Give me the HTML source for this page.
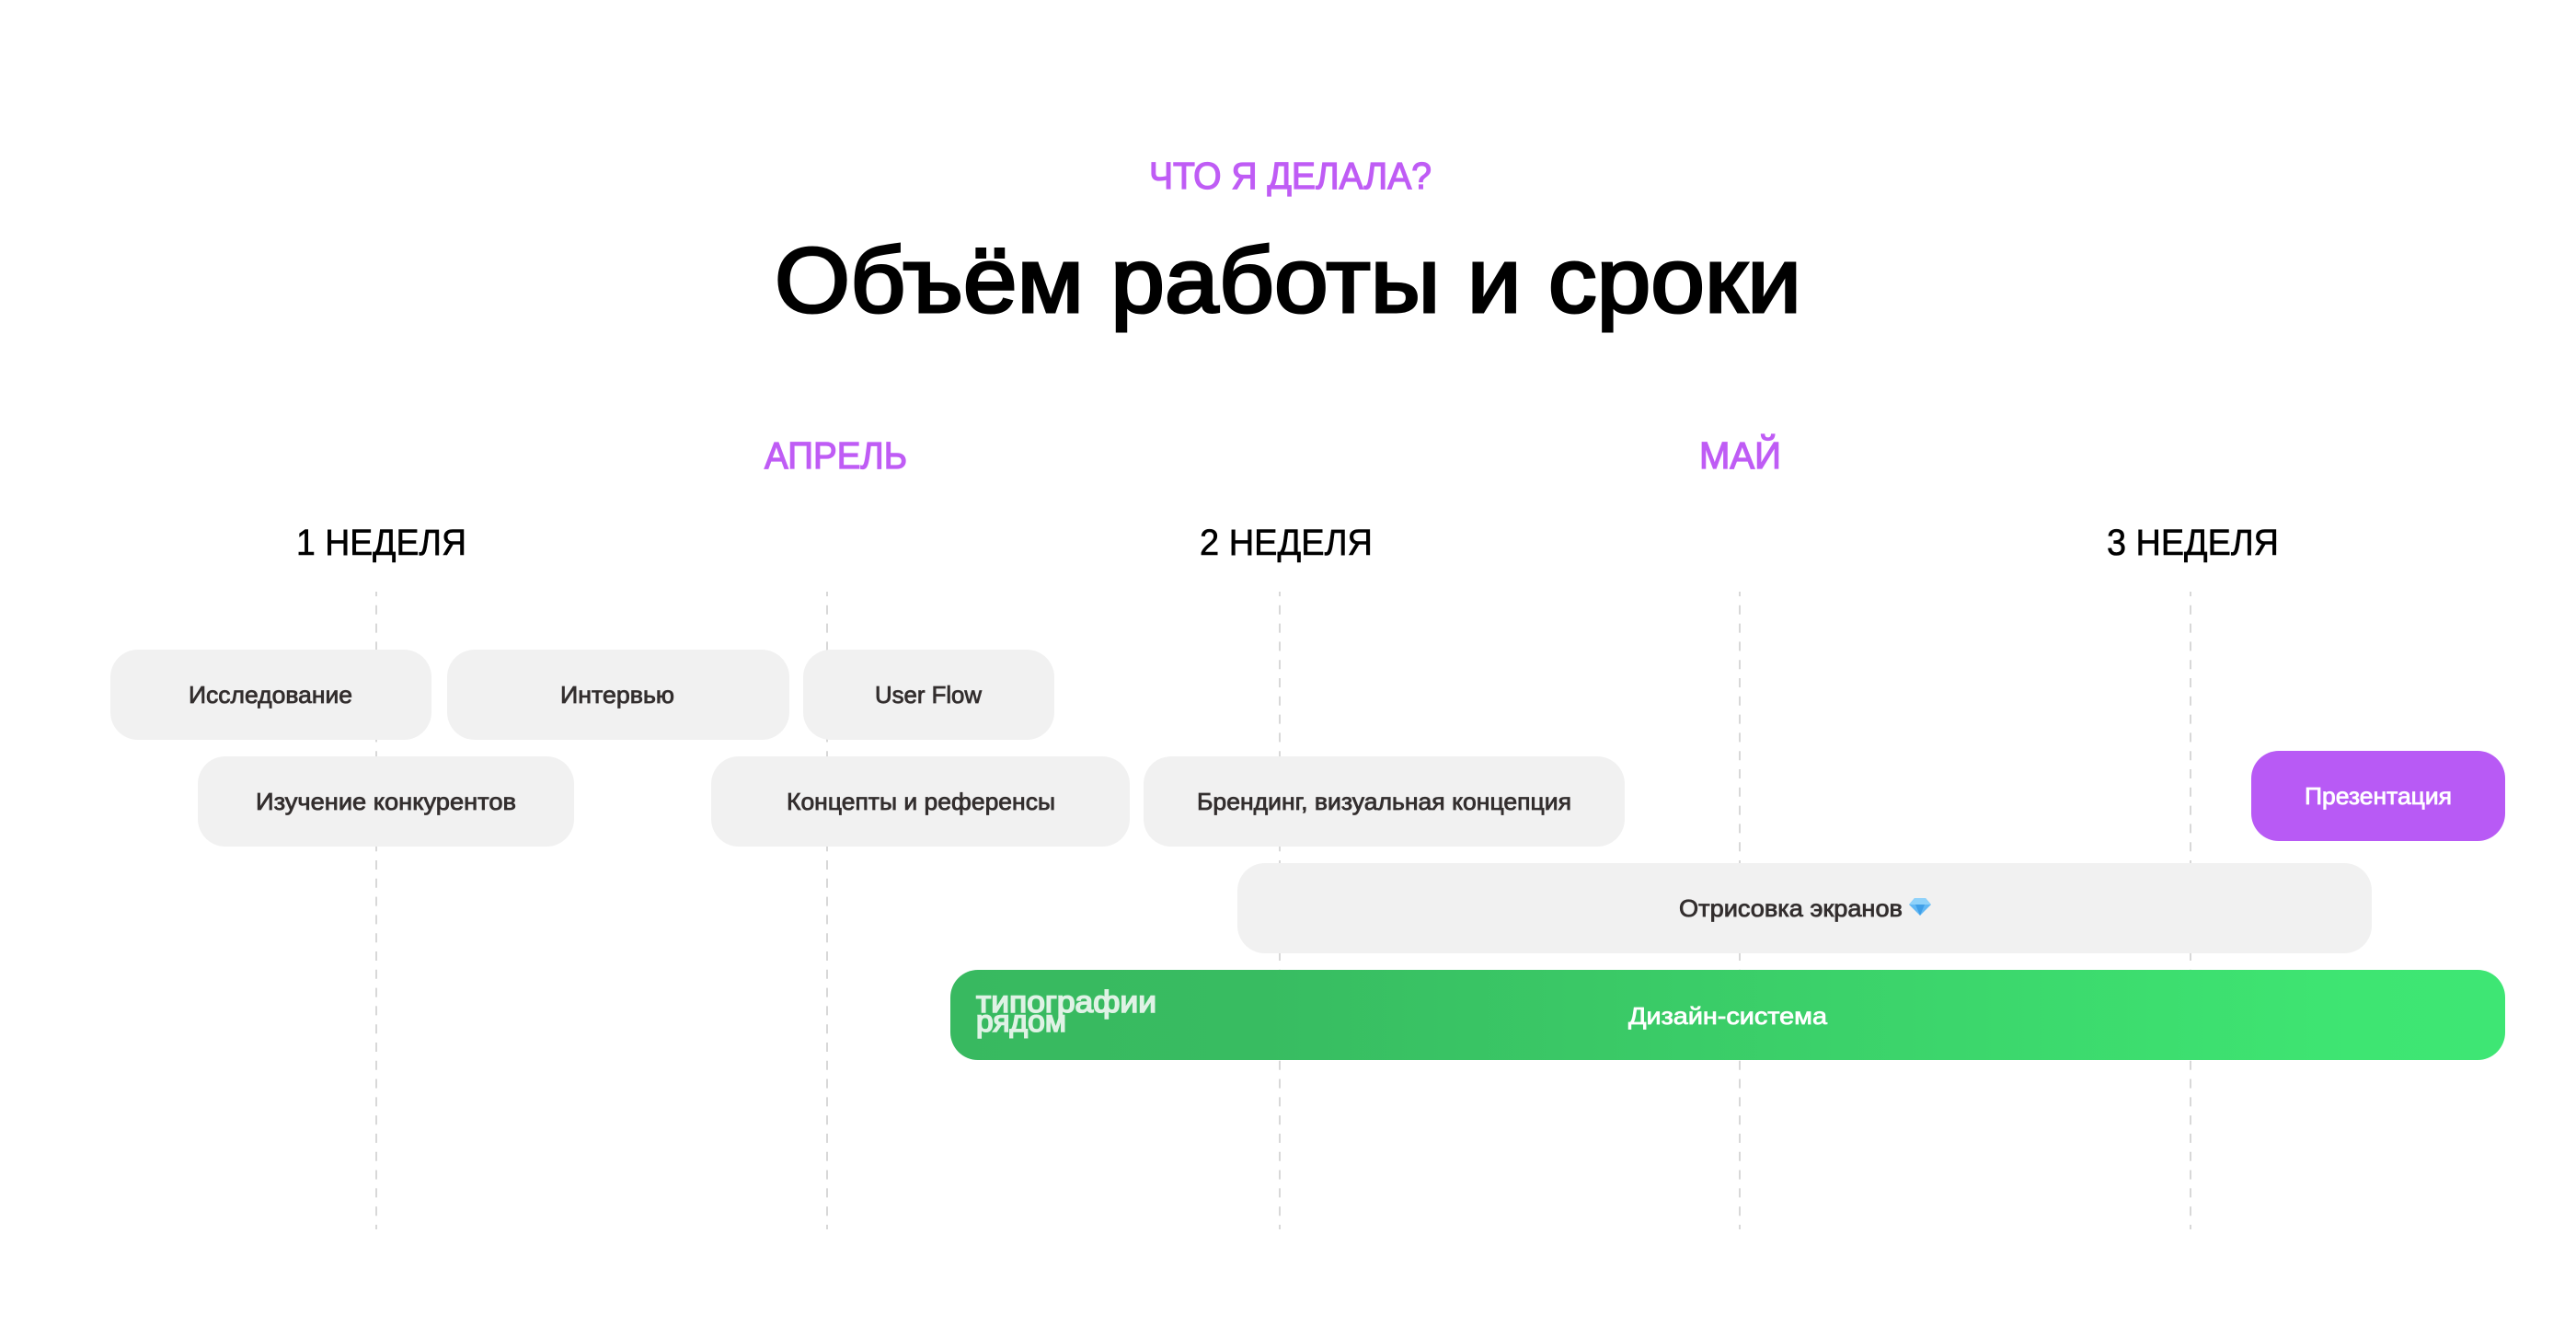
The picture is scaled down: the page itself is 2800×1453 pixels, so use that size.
<!DOCTYPE html>
<html lang="ru">
<head>
<meta charset="utf-8">
<title>Объём работы и сроки</title>
<style>
html,body{margin:0;padding:0;background:#fff;width:2800px;height:1453px;overflow:hidden}
svg{display:block}
text{font-family:"Liberation Sans","DejaVu Sans",sans-serif}
.p{fill:#bf5cf5;stroke:#bf5cf5;stroke-width:1.3}
.w{fill:#000;stroke:#000;stroke-width:.6}
.t{fill:#332e2e;font-size:26px;stroke:#332e2e;stroke-width:.8}
.l{fill:#fff;font-size:26px;stroke:#fff;stroke-width:.8}
.d{stroke:#d8d8d8;stroke-width:2;stroke-dasharray:10 9.8;stroke-dashoffset:5;fill:none}
</style>
</head>
<body>
<svg xmlns="http://www.w3.org/2000/svg" width="2800" height="1453" viewBox="0 0 2800 1453">
<defs>
<linearGradient id="g" gradientUnits="userSpaceOnUse" x1="1033" y1="0" x2="2723" y2="0">
<stop offset="0" stop-color="#38b960"/>
<stop offset=".2" stop-color="#38bc61"/>
<stop offset=".9" stop-color="#3ee572"/>
<stop offset="1" stop-color="#3ee674"/>
</linearGradient>
</defs>

<text class="p" x="1249" y="205" font-size="41" textLength="307" lengthAdjust="spacingAndGlyphs">ЧТО Я ДЕЛАЛА?</text>
<text x="842" y="339" font-size="100" fill="#000" stroke="#000" stroke-width="3" textLength="1116" lengthAdjust="spacingAndGlyphs">Объём работы и сроки</text>

<text class="p" x="831" y="509" font-size="41" textLength="155" lengthAdjust="spacingAndGlyphs">АПРЕЛЬ</text>
<text class="p" x="1847" y="509" font-size="41" textLength="89" lengthAdjust="spacingAndGlyphs">МАЙ</text>

<text class="w" x="322" y="603" font-size="40" textLength="185" lengthAdjust="spacingAndGlyphs">1 НЕДЕЛЯ</text>
<text class="w" x="1304" y="603" font-size="40" textLength="188" lengthAdjust="spacingAndGlyphs">2 НЕДЕЛЯ</text>
<text class="w" x="2290" y="603" font-size="40" textLength="187" lengthAdjust="spacingAndGlyphs">3 НЕДЕЛЯ</text>

<line class="d" x1="409" y1="643" x2="409" y2="1336"/>
<line class="d" x1="899" y1="643" x2="899" y2="1336"/>
<line class="d" x1="1391" y1="643" x2="1391" y2="1336"/>
<line class="d" x1="1891" y1="643" x2="1891" y2="1336"/>
<line class="d" x1="2381" y1="643" x2="2381" y2="1336"/>

<g fill="#f1f1f1">
<rect x="120" y="706" width="349" height="98" rx="30"/>
<rect x="486" y="706" width="372" height="98" rx="30"/>
<rect x="873" y="706" width="273" height="98" rx="30"/>
<rect x="215" y="822" width="409" height="98" rx="30"/>
<rect x="773" y="822" width="455" height="98" rx="30"/>
<rect x="1243" y="822" width="523" height="98" rx="30"/>
<rect x="1345" y="938" width="1233" height="98" rx="30"/>
</g>
<rect x="2447" y="816" width="276" height="98" rx="30" fill="#b85af5"/>
<rect x="1033" y="1054" width="1690" height="98" rx="30" fill="url(#g)"/>

<text class="t" x="205" y="764" textLength="178" lengthAdjust="spacingAndGlyphs">Исследование</text>
<text class="t" x="609" y="764" textLength="124" lengthAdjust="spacingAndGlyphs">Интервью</text>
<text class="t" x="951" y="764" textLength="116" lengthAdjust="spacingAndGlyphs">User Flow</text>
<text class="t" x="278" y="880" textLength="283" lengthAdjust="spacingAndGlyphs">Изучение конкурентов</text>
<text class="t" x="855" y="880" textLength="292" lengthAdjust="spacingAndGlyphs">Концепты и референсы</text>
<text class="t" x="1301" y="880" textLength="407" lengthAdjust="spacingAndGlyphs">Брендинг, визуальная концепция</text>
<text class="t" x="1825" y="996" textLength="243" lengthAdjust="spacingAndGlyphs">Отрисовка экранов</text>
<text class="l" x="2505" y="874" textLength="160" lengthAdjust="spacingAndGlyphs">Презентация</text>
<text class="l" x="1770" y="1113" textLength="216" lengthAdjust="spacingAndGlyphs">Дизайн-система</text>

<polygon points="2075,983 2081,976 2093,976 2099,983 2087,995" fill="#62b8f4"/>
<polygon points="2081,976 2093,976 2099,983 2075,983" fill="#8fd2fa"/>
<polygon points="2082,983 2092,983 2087,995" fill="#3f9fe8"/>

<text x="1061" y="1100" font-size="33" fill="#dff2e5" stroke="#dff2e5" stroke-width="1.6" textLength="196" lengthAdjust="spacingAndGlyphs">типографии</text>
<text x="1061" y="1121" font-size="33" fill="#dff2e5" stroke="#dff2e5" stroke-width="1.6" textLength="98" lengthAdjust="spacingAndGlyphs">рядом</text>
</svg>
</body>
</html>
